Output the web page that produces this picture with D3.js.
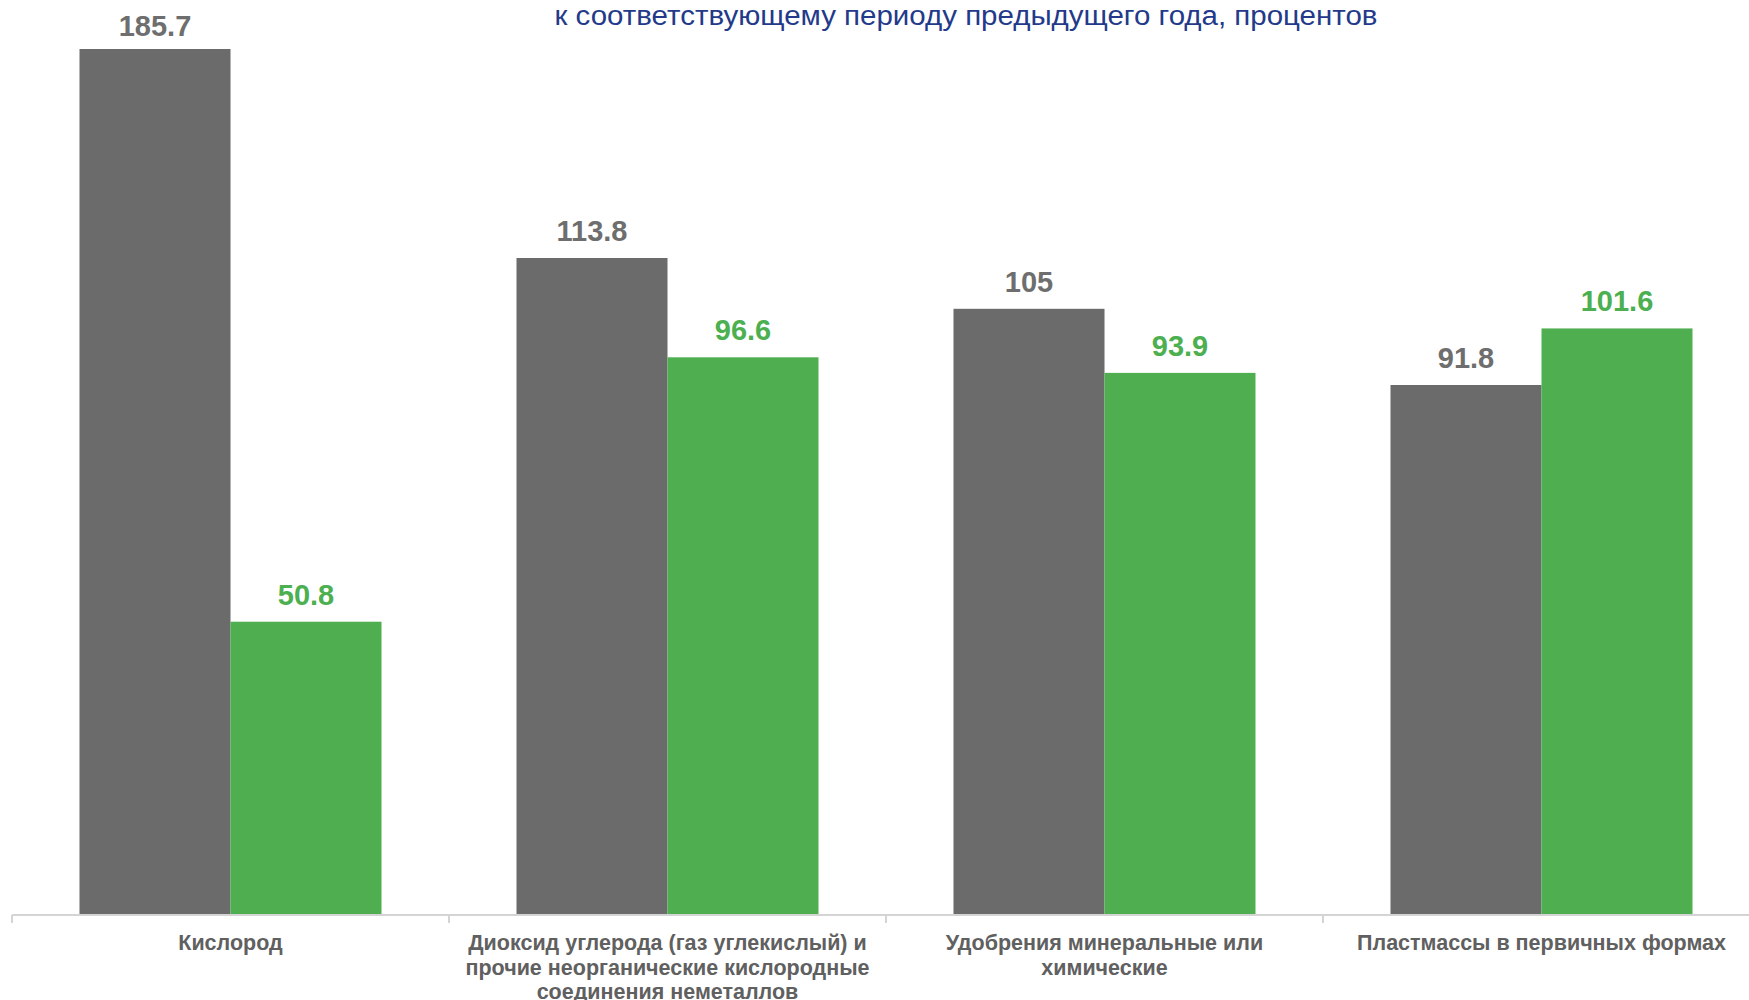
<!DOCTYPE html>
<html>
<head>
<meta charset="utf-8">
<script src="https://cdn.jsdelivr.net/npm/d3@7"></script>
<style>
  body { margin: 0; background: #fff; }
  svg { display: block; font-family: "Liberation Sans", Arial, sans-serif; }
</style>
</head>
<body>
<div id="chart"></div>
<script>
// Data
var categories = [
  "Кислород",
  "Диоксид углерода (газ углекислый) и прочие неорганические кислородные соединения неметаллов",
  "Удобрения минеральные или химические",
  "Пластмассы в первичных формах"
];
var seriesNames = ["gray", "green"];
var grayValues = [185.7, 113.8, 105, 91.8];
var greenValues = [50.8, 96.6, 93.9, 101.6];
var titleText = "к соответствующему периоду предыдущего года, процентов";

var W = 1749, H = 1000;
var svg = d3.select("#chart").append("svg")
  .attr("width", W)
  .attr("height", H);

var baseline = 915;
var x0 = d3.scaleBand().domain(categories).range([12, 12 + 437 * 4]).paddingInner(0).paddingOuter(0);
var x1 = d3.scaleBand().domain(seriesNames).range([67.5, 437 - 67.5]);
// axis max is 150, taller bars are clipped at the top
var y = d3.scaleLinear().domain([0, 150]).range([baseline, 49]).clamp(true);

var colors = { gray: "#6b6b6b", green: "#4faf50" };
var labelColors = { gray: "#6e6e6e", green: "#4caf50" };

// title (its first line is cut off above the picture)
svg.append("text")
  .attr("x", 966)
  .attr("y", 25)
  .attr("text-anchor", "middle")
  .attr("font-size", "27px")
  .attr("textLength", 823)
  .attr("lengthAdjust", "spacingAndGlyphs")
  .attr("fill", "#233a8a")
  .text(titleText);

var rows = categories.map(function (c, i) {
  return { cat: c, values: [
    { key: "gray", value: grayValues[i] },
    { key: "green", value: greenValues[i] }
  ] };
});

var groups = svg.selectAll(".grp")
  .data(rows)
  .enter()
  .append("g")
  .attr("class", "grp")
  .attr("transform", function (d) { return "translate(" + x0(d.cat) + ",0)"; });

groups.selectAll("rect")
  .data(function (d) { return d.values; })
  .enter()
  .append("rect")
  .attr("x", function (d) { return x1(d.key); })
  .attr("width", x1.bandwidth())
  .attr("y", function (d) { return y(d.value); })
  .attr("height", function (d) { return baseline - y(d.value); })
  .attr("fill", function (d) { return colors[d.key]; });

groups.selectAll(".val")
  .data(function (d) { return d.values; })
  .enter()
  .append("text")
  .attr("class", "val")
  .attr("x", function (d) { return x1(d.key) + x1.bandwidth() / 2; })
  .attr("y", function (d) { return Math.max(y(d.value) - 17, 36); })
  .attr("text-anchor", "middle")
  .attr("font-size", "29px")
  .attr("font-weight", "bold")
  .attr("fill", function (d) { return labelColors[d.key]; })
  .text(function (d) { return d.value; });

// x axis
var axis = svg.append("g")
  .attr("transform", "translate(0," + baseline + ")")
  .call(d3.axisBottom(x0).tickSize(0).tickFormat(""));
axis.select(".domain").attr("stroke", "#d4d4d4").attr("stroke-width", 2)
  .attr("d", "M12,0H" + W);
axis.selectAll(".tick").remove();

axis.selectAll(".sep")
  .data(categories)
  .enter()
  .append("line")
  .attr("class", "sep")
  .attr("x1", function (d) { return x0(d); })
  .attr("x2", function (d) { return x0(d); })
  .attr("y1", 0)
  .attr("y2", 8)
  .attr("stroke", "#d4d4d4")
  .attr("stroke-width", 2);

// category labels, wrapped
function wrap(str, maxW, fontSize) {
  var tmp = svg.append("text").attr("font-size", fontSize).attr("font-weight", "bold");
  var words = str.split(" "), lines = [], cur = "";
  words.forEach(function (w) {
    var test = cur ? cur + " " + w : w;
    tmp.text(test);
    if (tmp.node().getComputedTextLength() > maxW && cur) {
      lines.push(cur);
      cur = w;
    } else {
      cur = test;
    }
  });
  if (cur) lines.push(cur);
  tmp.remove();
  return lines;
}

categories.forEach(function (c) {
  var lines = wrap(c, 420, "21.5px");
  var t = svg.append("text")
    .attr("text-anchor", "middle")
    .attr("font-size", "21.5px")
    .attr("font-weight", "bold")
    .attr("fill", "#606060");
  lines.forEach(function (l, i) {
    t.append("tspan")
      .attr("x", x0(c) + x0.bandwidth() / 2)
      .attr("y", 950 + i * 24.5)
      .text(l);
  });
});
</script>
</body>
</html>
